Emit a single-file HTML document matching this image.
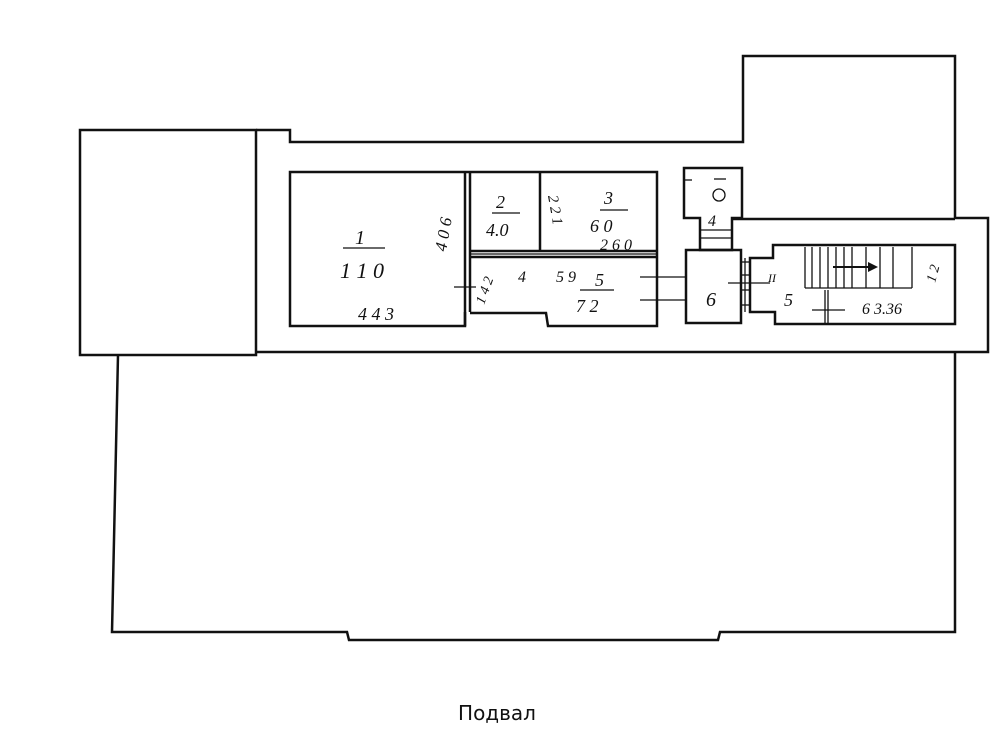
<!DOCTYPE html>
<html><head><meta charset="utf-8"><style>
html,body{margin:0;padding:0;background:#fff;width:1000px;height:750px;overflow:hidden}
svg{display:block}
.h{font-family:"Liberation Serif",serif;font-style:italic;fill:#111}
</style></head><body>
<svg width="1000" height="750" viewBox="0 0 1000 750" xmlns="http://www.w3.org/2000/svg">
<g fill="none" stroke="#111" stroke-width="2.5" stroke-linejoin="miter">
<!-- left box -->
<rect x="80" y="130" width="176" height="225"/>
<!-- band outline -->
<path d="M256,130 L290,130 L290,142 L743,142 L743,56 L955,56 L955,218 L988,218 L988,352 L256,352"/>
<line x1="733" y1="219" x2="955" y2="219"/>
<!-- lower box -->
<path d="M118,355 L112,632 L347,632 L349,640 L718,640 L720,632 L955,632 L955,352"/>
<!-- room 1 -->
<path d="M465,172 L290,172 L290,326 L465,326 L465,312"/>
<line x1="465" y1="172" x2="465" y2="326"/>
<line x1="470" y1="172" x2="470" y2="312"/>
<!-- rooms 2/3 -->
<path d="M465,172 L657,172 L657,326 L548,326 L546,313 L470,313"/>
<line x1="540" y1="172" x2="540" y2="251"/>
<line x1="470" y1="251" x2="657" y2="251"/>
<line x1="470" y1="257" x2="657" y2="257"/>
<!-- WC -->
<path d="M684,168 L742,168 L742,218 L732,218 L732,250 L700,250 L700,218 L684,218 Z"/>
<!-- room 6 -->
<rect x="686" y="250" width="55" height="73"/>
<!-- stair room -->
<path d="M773,245 L955,245 L955,324 L775,324 L775,312 L750,312 L750,258 L773,258 Z"/>
</g>
<g fill="none" stroke="#111" stroke-width="1.3">
<line x1="470" y1="254" x2="657" y2="254"/>
<line x1="454" y1="287" x2="476" y2="287"/>
<line x1="640" y1="277" x2="686" y2="277"/>
<line x1="640" y1="300" x2="686" y2="300"/>
<line x1="700" y1="230" x2="732" y2="230"/>
<line x1="700" y1="238" x2="732" y2="238"/>
<line x1="742" y1="262" x2="750" y2="262"/>
<line x1="742" y1="275" x2="750" y2="275"/>
<line x1="742" y1="290" x2="750" y2="290"/>
<line x1="742" y1="305" x2="750" y2="305"/>
<line x1="745" y1="258" x2="745" y2="312"/>
<line x1="728" y1="283" x2="770" y2="283"/>
<line x1="714" y1="179" x2="726" y2="179"/>
<circle cx="719" cy="195" r="6"/>
<line x1="684" y1="180" x2="692" y2="180"/>
<!-- stairs -->
<path d="M805,247 V288 M812,247 V288 M820,247 V288 M828,247 V288 M836,247 V288 M844,247 V288 M852,247 V288 M866,247 V288 M880,247 V288 M893,247 V288 M912,247 V288 M805,288 H912"/>
<line x1="833" y1="267" x2="868" y2="267" stroke-width="2"/>
<line x1="812" y1="310" x2="845" y2="310"/>
<line x1="825" y1="290" x2="825" y2="324"/>
<line x1="828" y1="290" x2="828" y2="324"/>
<line x1="343" y1="248" x2="385" y2="248"/>
<line x1="492" y1="213" x2="520" y2="213"/>
<line x1="600" y1="210" x2="628" y2="210"/>
<line x1="580" y1="290" x2="614" y2="290"/>
</g>
<polygon points="868,262 878,267 868,272" fill="#111"/>
<g class="h">
<text x="355" y="244" font-size="20">1</text>
<text x="340" y="278" font-size="22">1 1 0</text>
<text x="358" y="320" font-size="18">4 4 3</text>
<text x="446" y="252" font-size="17" transform="rotate(-80 446 252)">4 0 6</text>
<text x="496" y="208" font-size="18">2</text>
<text x="486" y="236" font-size="18">4.0</text>
<text x="548" y="196" font-size="15" transform="rotate(80 548 196)">2 2 1</text>
<text x="604" y="204" font-size="18">3</text>
<text x="590" y="232" font-size="18">6 0</text>
<text x="600" y="250" font-size="16">2 6 0</text>
<text x="518" y="282" font-size="16">4</text>
<text x="556" y="282" font-size="16">5 9</text>
<text x="595" y="286" font-size="18">5</text>
<text x="576" y="312" font-size="18">7 2</text>
<text x="484" y="305" font-size="14" transform="rotate(-70 484 305)">1 4 2</text>
<text x="708" y="226" font-size="16">4</text>
<text x="706" y="306" font-size="20">6</text>
<text x="768" y="282" font-size="12">II</text>
<text x="784" y="306" font-size="18">5</text>
<text x="862" y="314" font-size="16">6 3.36</text>
<text x="935" y="283" font-size="14" transform="rotate(-75 935 283)">1 2</text>
</g>
<text x="497" y="720" font-size="20" text-anchor="middle" font-family="'DejaVu Sans','Liberation Sans',sans-serif" fill="#111">Подвал</text>
</svg>
</body></html>
